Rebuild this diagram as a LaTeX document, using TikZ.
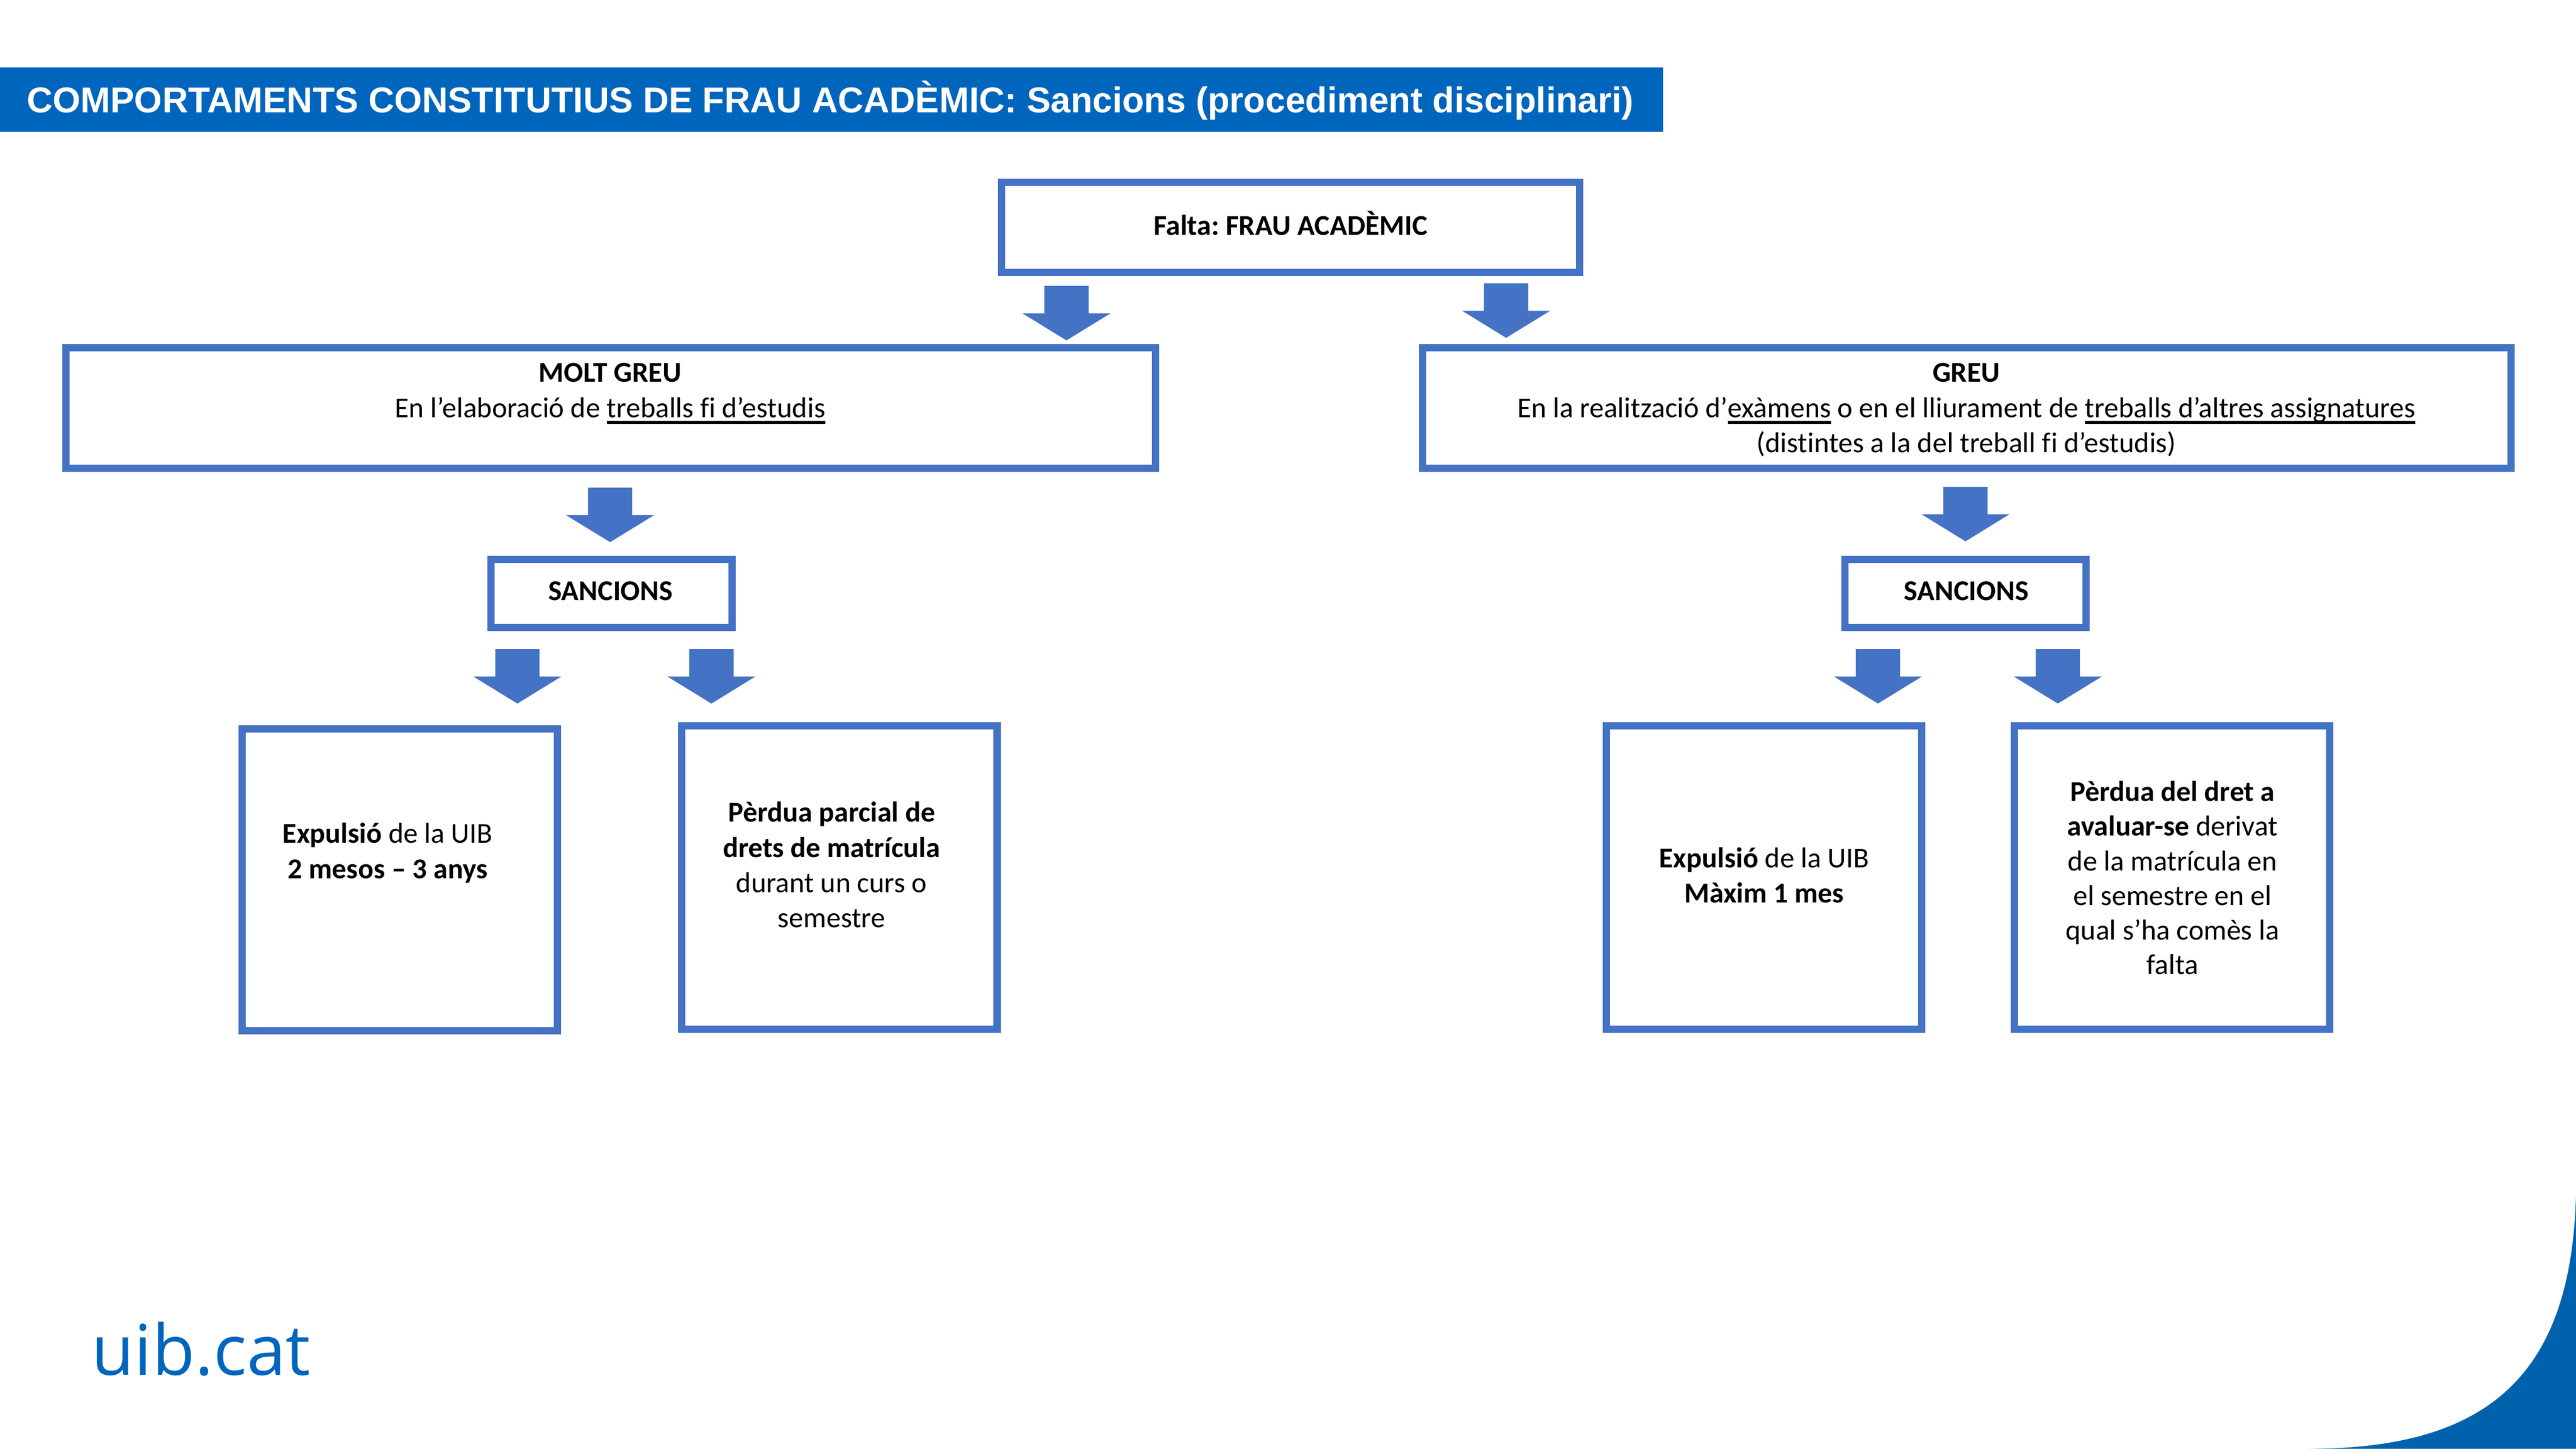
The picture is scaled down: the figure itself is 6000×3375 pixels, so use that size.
\documentclass[tikz,border=0pt]{standalone}
\usepackage{fontspec}
\setmainfont{Carlito}[Ligatures=NoCommon]
\newfontfamily\titlefont{Liberation Sans}
\newfontfamily\logofont{Open Sans}
\definecolor{boxblue}{HTML}{4472C4}
\definecolor{uibblue}{HTML}{0065BD}
\definecolor{swooshblue}{HTML}{0062AD}
\newsavebox\ulsave
\newcommand\ulx[1]{\sbox\ulsave{#1}\rlap{\rule[-1.5pt]{\wd\ulsave}{0.7pt}}\usebox\ulsave}
\newcommand\topstrut{\rule{0pt}{6pt}}
\frenchspacing
\begin{document}
\begin{tikzpicture}[x=0.1pt,y=-0.1pt,
  box/.style={draw=boxblue, line width=1.7pt, fill=white, inner sep=0pt},
  txt/.style={anchor=north, inner sep=0pt, align=center, font=\fontsize{6.7pt}{8.2pt}\selectfont},
  blockarrow/.pic={\fill[boxblue] (-51.5,0) -- (51.5,0) -- (51.5,64) -- (102.5,64) -- (0,127) -- (-102.5,64) -- (-51.5,64) -- cycle;}
]
\useasboundingbox (0,0) rectangle (6000,3375);
\fill[white] (0,0) rectangle (6000,3375);

% title bar
\fill[uibblue] (0,157) rectangle (3873,307);
\node[anchor=base west, inner sep=0pt, text=white, font=\titlefont\bfseries\fontsize{8.34pt}{10pt}\selectfont] (title) at (61,262)
  {COMPORTAMENTS CONSTITUTIUS DE FRAU ACADÈMIC: Sancions (procediment disciplinari)};

% boxes
\node[box, minimum width=134.7pt, minimum height=21pt] (top) at (3006,529.5) {};
\node[box, minimum width=253.8pt, minimum height=28.1pt] (molt) at (1422.5,950) {};
\node[box, minimum width=253.5pt, minimum height=28.1pt] (greu) at (4581,950) {};
\node[box, minimum width=56.2pt, minimum height=15.8pt] (sancL) at (1424.5,1382.5) {};
\node[box, minimum width=56.2pt, minimum height=15.8pt] (sancR) at (4578,1382.5) {};
\node[box, minimum width=73.5pt, minimum height=70.4pt] (b1) at (931,2049.5) {};
\node[box, minimum width=73.5pt, minimum height=70.7pt] (b2) at (1955,2044) {};
\node[box, minimum width=73.5pt, minimum height=70.7pt] (b3) at (4108.5,2044) {};
\node[box, minimum width=73.5pt, minimum height=70.7pt] (b4) at (5059,2044) {};

% texts
\node[txt] (ttop) at (3006,486) {\topstrut\textbf{Falta: FRAU ACADÈMIC}};
\node[txt] (tmolt) at (1421,828) {\topstrut\textbf{MOLT GREU}\\En l’elaboració de \ulx{treballs fi d’estudis}};
\node[txt] (tgreu) at (4580,828) {\topstrut\textbf{GREU}\\En la realització d’\ulx{exàmens} o en el lliurament de \ulx{treballs d’altres assignatures}\\(distintes a la del treball fi d’estudis)};
\node[txt] (tsancL) at (1422,1336) {\topstrut\textbf{SANCIONS}};
\node[txt] (tsancR) at (4580,1336) {\topstrut\textbf{SANCIONS}};
\node[txt] (tb1) at (903,1902) {\topstrut\textbf{Expulsió} de la UIB\\\textbf{2 mesos – 3 anys}};
\node[txt] (tb2) at (1937,1853) {\topstrut\textbf{Pèrdua parcial de}\\\textbf{drets de matrícula}\\durant un curs o\\semestre};
\node[txt] (tb3) at (4109,1959) {\topstrut\textbf{Expulsió} de la UIB\\\textbf{Màxim 1 mes}};
\node[txt, font=\fontsize{6.7pt}{8.05pt}\selectfont] (tb4) at (5060,1805) {\topstrut\textbf{Pèrdua del dret a}\\\textbf{avaluar-se} derivat\\de la matrícula en\\el semestre en el\\qual s’ha comès la\\falta};

% block arrows
\pic (a1) at (2484,666) {blockarrow};
\pic (a2) at (3508,660) {blockarrow};
\pic (a3) at (1421,1136) {blockarrow};
\pic (a4) at (4578,1134) {blockarrow};
\pic (a5) at (1205,1512) {blockarrow};
\pic (a6) at (1657,1512) {blockarrow};
\pic (a7) at (4374,1512) {blockarrow};
\pic (a8) at (4793,1512) {blockarrow};

% footer
\node[anchor=base west, inner sep=0pt, text=uibblue, font=\logofont\fontsize{16.3pt}{18pt}\selectfont] (logo) at (211,3203) {uib.cat};
\fill[swooshblue] (5377,3375) .. controls (5800,3375) and (5990,3200) .. (6000,2780) -- (6000,3375) -- cycle;
\end{tikzpicture}
\end{document}
